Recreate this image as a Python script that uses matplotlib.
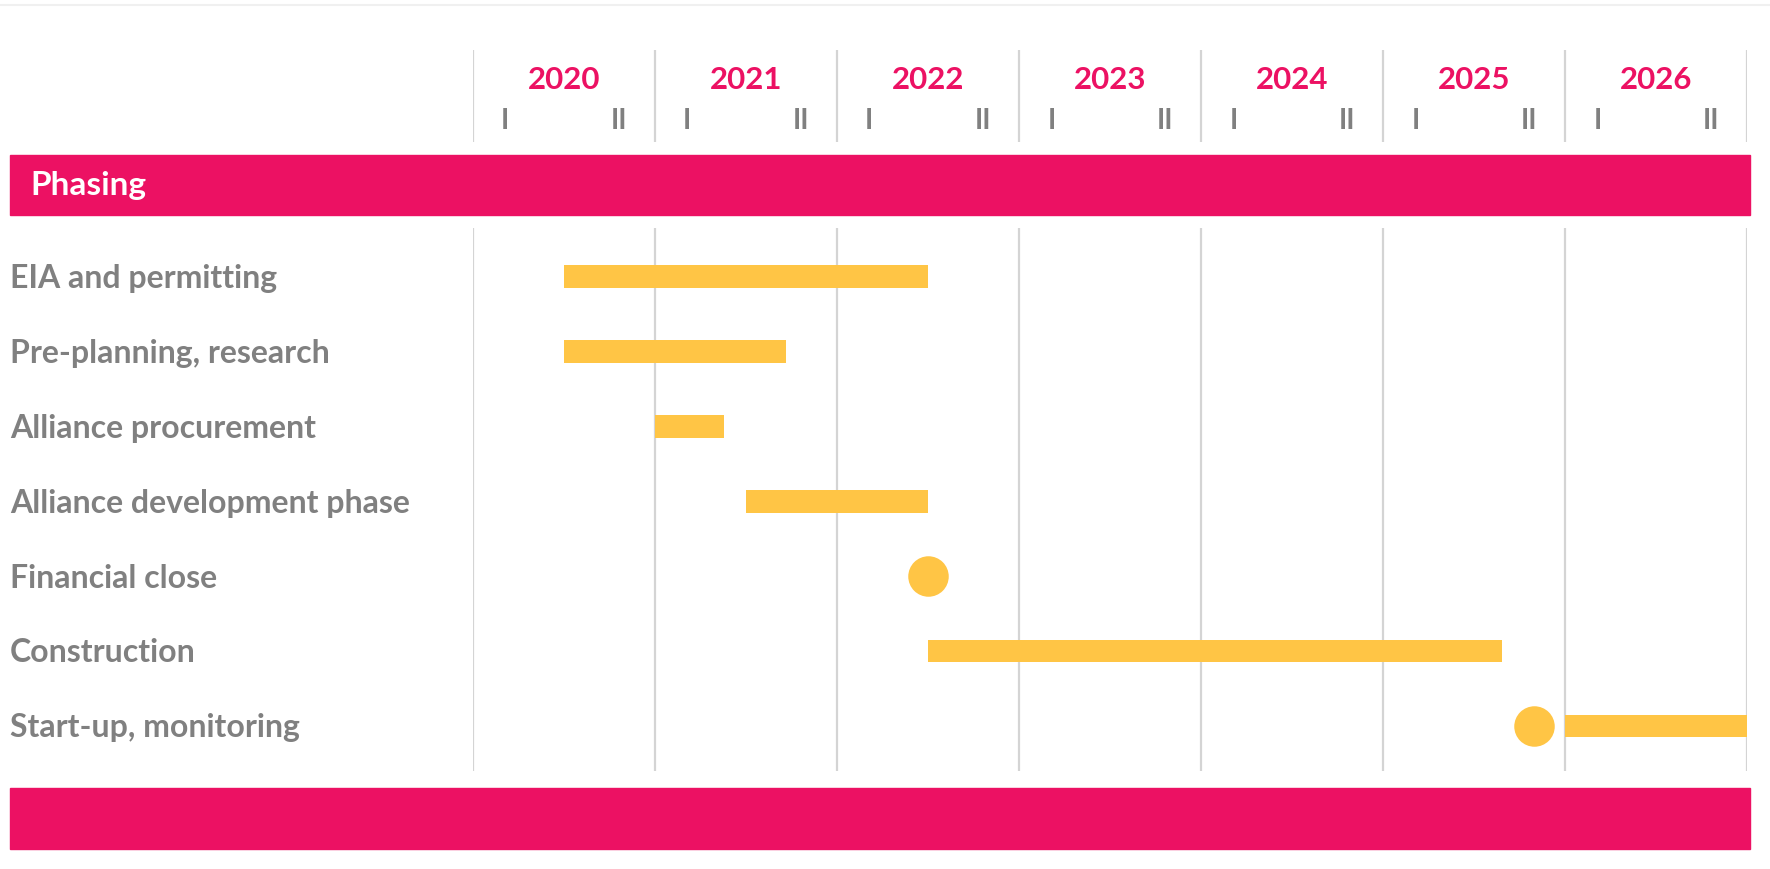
import matplotlib.pyplot as plt
from matplotlib.patches import Rectangle

# schedule data
years = [2020, 2021, 2022, 2023, 2024, 2025, 2026]
half_labels = ["I", "II"]
tasks = [
    "EIA and permitting",
    "Pre-planning, research",
    "Alliance procurement",
    "Alliance development phase",
    "Financial close",
    "Construction",
    "Start-up, monitoring",
]
bar_start = [2020.5, 2020.5, 2021.0, 2021.5, None, 2022.5, 2026.0]
bar_end = [2022.5, 2021.72, 2021.38, 2022.5, None, 2025.65, 2027.0]
milestone = [None, None, None, None, 2022.5, None, 2025.83]

PINK = "#ec1163"
YELLOW = "#ffc545"
GREY_TXT = "#808080"
GRID = "#d4d4d4"

W, H = 1770, 869
fig = plt.figure(figsize=(W / 100, H / 100), dpi=100)
plt.rcParams['font.family'] = ['Lato', 'DejaVu Sans']

def px_box(x0, y0, x1, y1):
    # pixel box (top-left origin) -> figure fraction [l, b, w, h]
    return [x0 / W, 1 - y1 / H, (x1 - x0) / W, (y1 - y0) / H]

x_left, x_right = 473, 1747.4
xlim = (years[0], years[-1] + 1)

# header with years and halves
hax = fig.add_axes(px_box(x_left, 50, x_right, 142))
hax.set_xlim(*xlim)
hax.set_ylim(0, 1)
hax.axis('off')
for yr in years + [years[-1] + 1]:
    hax.axvline(yr, color=GRID, lw=1.6)
for yr in years:
    hax.text(yr + 0.5, 0.67, str(yr), ha='center', va='center',
             color=PINK, fontsize=22.5, fontweight='bold')
    hax.text(yr + 0.177, 0.23, half_labels[0], ha='center', va='center',
             color=GREY_TXT, fontsize=20, fontweight='bold')
    hax.text(yr + 0.80, 0.23, half_labels[1], ha='center', va='center',
             color=GREY_TXT, fontsize=20, fontweight='bold')

# pink bands
fig.patches.append(Rectangle((10 / W, 1 - 214.5 / H), 1740 / W, 60 / H,
                             transform=fig.transFigure, color=PINK, zorder=0))
fig.patches.append(Rectangle((10 / W, 1 - 849 / H), 1740 / W, 61 / H,
                             transform=fig.transFigure, color=PINK, zorder=0))
fig.text(30 / W, 1 - 185 / H, "Phasing", color="white", fontsize=24,
         fontweight='bold', va='center', ha='left')

# gantt body
ax = fig.add_axes(px_box(x_left, 228, x_right, 771))
ax.set_xlim(*xlim)
ax.set_ylim(6.6, -0.65)
ax.axis('off')
for yr in years + [years[-1] + 1]:
    ax.axvline(yr, color=GRID, lw=1.6, zorder=0)

for i, name in enumerate(tasks):
    if bar_start[i] is not None:
        ax.barh(i, bar_end[i] - bar_start[i], left=bar_start[i], height=0.3,
                color=YELLOW, zorder=2)
    if milestone[i] is not None:
        ax.scatter([milestone[i]], [i], s=850, color=YELLOW, zorder=3,
                   linewidths=0)
    ax.text(10 / W, 1 - (278.5 + 74.9 * i) / H, name, transform=fig.transFigure,
            ha='left', va='center', color=GREY_TXT, fontsize=23, fontweight='bold')

# faint top border
fig.add_artist(plt.Line2D([0, 1], [1 - 5 / H, 1 - 5 / H], color="#f0f0f0", lw=1.5))

plt.savefig("out.png", dpi=100)
